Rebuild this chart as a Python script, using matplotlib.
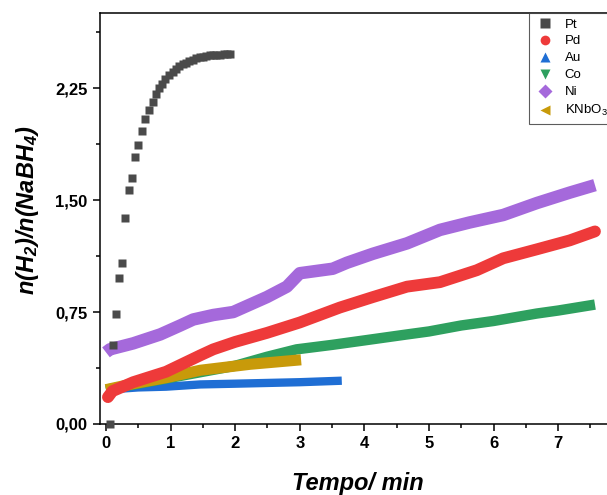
import matplotlib
matplotlib.use("Agg")
import matplotlib.pyplot as plt
from matplotlib.lines import Line2D
from matplotlib.ticker import MultipleLocator, FuncFormatter

plt.rcParams['font.family'] = ['Liberation Sans', 'DejaVu Sans']
plt.rcParams['mathtext.fontset'] = 'custom'
plt.rcParams['mathtext.it'] = 'Liberation Sans:italic:bold'
plt.rcParams['mathtext.rm'] = 'Liberation Sans:italic:bold'
plt.rcParams['mathtext.sf'] = 'Liberation Sans'

# --- data ---
pt_t = [0.06, 0.11, 0.16, 0.20, 0.25, 0.29, 0.35, 0.40, 0.45, 0.50, 0.55, 0.61, 0.67, 0.72, 0.77,
        0.82, 0.87, 0.92, 0.98, 1.03, 1.08, 1.13, 1.19, 1.24, 1.29, 1.34, 1.40, 1.45, 1.50, 1.55,
        1.61, 1.66, 1.71, 1.76, 1.82, 1.87, 1.92]
pt_y = [0.00, 0.53, 0.74, 0.98, 1.08, 1.38, 1.57, 1.65, 1.79, 1.87, 1.96, 2.04, 2.10, 2.16, 2.21,
        2.25, 2.28, 2.31, 2.34, 2.36, 2.38, 2.40, 2.41, 2.42, 2.43, 2.44, 2.45, 2.455, 2.46, 2.465,
        2.47, 2.47, 2.475, 2.475, 2.48, 2.48, 2.48]

pd_t = [0.03, 0.10, 0.42, 0.93, 1.46, 1.66, 2.00, 2.49, 3.00, 3.62, 4.13, 4.66, 5.17, 5.74, 6.15, 6.67, 7.18, 7.57]
pd_y = [0.18, 0.22, 0.28, 0.35, 0.46, 0.50, 0.55, 0.61, 0.68, 0.78, 0.85, 0.92, 0.95, 1.03, 1.11, 1.17, 1.23, 1.29]

au_t = [0.00, 0.50, 0.93, 1.46, 2.00, 2.50, 3.00, 3.65]
au_y = [0.23, 0.245, 0.25, 0.265, 0.27, 0.275, 0.28, 0.29]

co_t = [0.00, 0.50, 1.00, 1.50, 2.00, 2.49, 2.95, 3.50, 4.00, 4.66, 5.00, 5.50, 6.00, 6.67, 7.00, 7.57]
co_y = [0.23, 0.27, 0.31, 0.35, 0.39, 0.45, 0.50, 0.53, 0.56, 0.60, 0.62, 0.66, 0.69, 0.74, 0.76, 0.80]

ni_t = [0.00, 0.06, 0.42, 0.84, 1.15, 1.35, 1.66, 1.97, 2.49, 2.80, 3.00, 3.51, 3.73, 4.13, 4.66,
        5.17, 5.63, 6.15, 6.67, 7.18, 7.57]
ni_y = [0.48, 0.50, 0.54, 0.60, 0.66, 0.70, 0.73, 0.75, 0.85, 0.92, 1.01, 1.04, 1.08, 1.14, 1.21,
        1.30, 1.35, 1.40, 1.48, 1.55, 1.60]

kn_t = [0.00, 0.42, 0.93, 1.46, 2.23, 3.02]
kn_y = [0.23, 0.27, 0.31, 0.36, 0.40, 0.43]

labels = ['Pt', 'Pd', 'Au', 'Co', 'Ni', r'$\mathsf{KNbO_3}$']
colors = ['#4a4a4a', '#ee3a3a', '#1f6ed4', '#2ea05f', '#a569db', '#c89a0a']
markers = ['s', 'o', '^', 'v', 'D', '<']

fig = plt.figure(figsize=(6.07, 4.95), dpi=100)
ax = fig.add_axes([100 / 607, 71 / 495, 515 / 607, 411 / 495])

# dense marker bands drawn as thick lines
ax.plot(au_t, au_y, color=colors[2], lw=6, solid_capstyle='butt', zorder=2)
ax.plot(co_t, co_y, color=colors[3], lw=7.5, solid_capstyle='butt', zorder=3)
ax.plot(kn_t, kn_y, color=colors[5], lw=8, solid_capstyle='butt', zorder=4)
ax.plot(pd_t, pd_y, color=colors[1], lw=8.5, solid_capstyle='round', zorder=5)
ax.plot(ni_t, ni_y, color=colors[4], lw=9, solid_capstyle='butt', zorder=6)
ax.plot(pt_t, pt_y, 's', color=colors[0], ms=6, mec='none', zorder=7, clip_on=False)

ax.set_xlim(-0.093, 7.88)
ax.set_ylim(0, 2.753)
ax.xaxis.set_major_locator(MultipleLocator(1))
ax.xaxis.set_minor_locator(MultipleLocator(0.5))
ax.yaxis.set_major_locator(MultipleLocator(0.75))
ax.yaxis.set_minor_locator(MultipleLocator(0.375))
ax.yaxis.set_major_formatter(FuncFormatter(lambda v, p: f"{v:.2f}".replace('.', ',')))

ax.tick_params(which='major', direction='out', length=5, width=1.1, labelsize=12, pad=4)
ax.tick_params(which='minor', direction='out', length=3, width=1.1)
for lab in ax.get_xticklabels() + ax.get_yticklabels():
    lab.set_fontweight('bold')
for s in ax.spines.values():
    s.set_linewidth(1.1)
ax.spines['right'].set_visible(False)

ax.set_xlabel('Tempo/ min', fontsize=17, fontweight='bold', style='italic', labelpad=15)
ax.set_ylabel(r'$n(H_2)/n(NaBH_4)$', fontsize=17)
ax.yaxis.set_label_coords(-0.115, 0.52)

handles = [Line2D([], [], ls='none', marker=m, color=c, ms=7, mec='none') for m, c in zip(markers, colors)]
leg = ax.legend(handles, labels, loc='upper left', bbox_to_anchor=(529 / 607, 1 - 13 / 495),
                bbox_transform=fig.transFigure, fontsize=9.5, frameon=True, fancybox=False,
                edgecolor='#333333', borderpad=0.4, labelspacing=0.36, handletextpad=0.7,
                handlelength=1.6, borderaxespad=0)
leg.get_frame().set_linewidth(0.8)

fig.savefig('out.png', dpi=100)
